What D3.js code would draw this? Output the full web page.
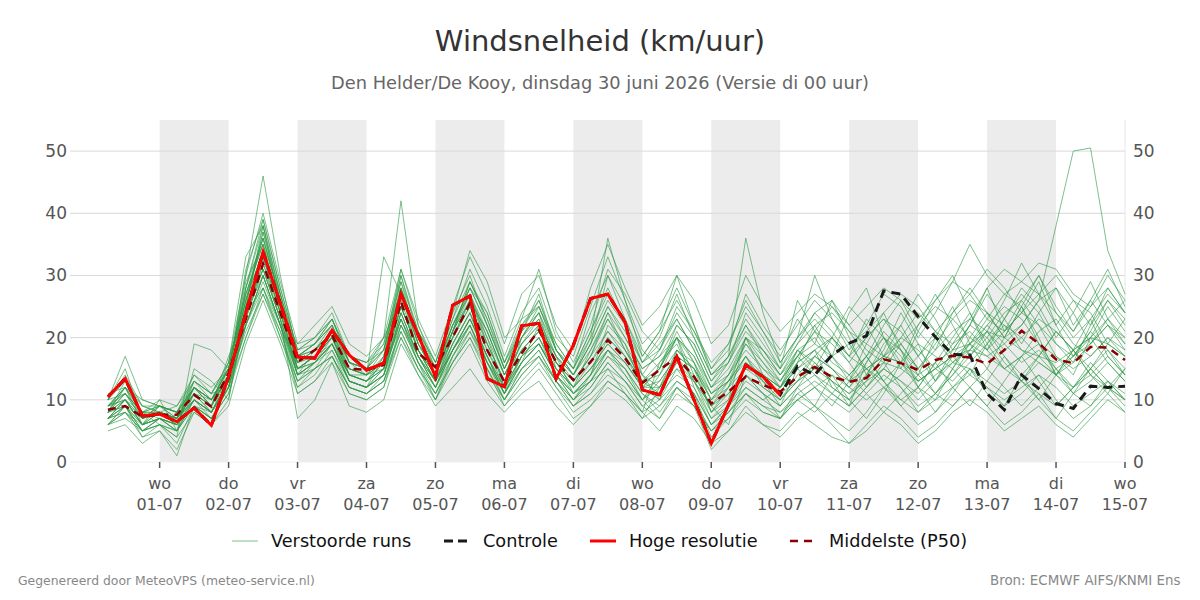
<!DOCTYPE html>
<html>
<head>
<meta charset="utf-8">
<script src="https://cdn.jsdelivr.net/npm/d3@7"></script>
<style>
  body { margin: 0; background: #fff; font-family: "DejaVu Sans", sans-serif; }
</style>
</head>
<body>
<div id="chart"></div>
<script>
// first run step: 30-06 06:00, then every 6 hours
var startRun = new Date(2026, 5, 30, 6);
var dayTicks = ["wo", "do", "vr", "za", "zo", "ma", "di", "wo", "do", "vr", "za", "zo", "ma", "di", "wo"];
var dateTicks = ["01-07", "02-07", "03-07", "04-07", "05-07", "06-07", "07-07", "08-07", "09-07", "10-07", "11-07", "12-07", "13-07", "14-07", "15-07"];
var yTicks = [0, 10, 20, 30, 40, 50];

// hoge resolutie (ends 10-07 00:00)
var hires = [10.5, 13.4, 7.4, 7.7, 6.5, 8.7, 5.9, 13.7, 24, 33.8,
  25.5, 16.9, 16.7, 21.2, 17.2, 14.8, 15.9, 27, 20.4, 13.7,
  25.2, 26.7, 13.4, 12.1, 21.9, 22.3, 13.4, 18.8, 26.3, 27,
  22.5, 11.6, 10.8, 16.9, 10, 3.0, 9.2, 15.6, 13.7, 10.8];

// controle run (same as hoge resolutie in first part)
var control = [10.5, 13.4, 7.4, 7.7, 6.5, 8.7, 5.9, 13.7, 24, 33.8,
  25.5, 16.9, 16.7, 21.2, 17.2, 14.8, 15.9, 27, 20.4, 13.7,
  25.2, 26.7, 13.4, 12.1, 21.9, 22.3, 13.4, 18.8, 26.3, 27,
  22.5, 11.6, 10.8, 16.9, 10, 3.0, 9.2, 15.6, 13.7, 10.8,
  15.4, 14, 17.2, 19.1, 20.3, 27.5, 27, 23.4, 20.1, 17.3,
  17.2, 11, 8.4, 14, 11.8, 9.4, 8.6, 12.2, 12, 12.2];

// middelste (P50)
var median = [8.4, 9.0, 7.3, 7.6, 7.6, 10.8, 8.9, 14.3, 23, 31.9,
  24, 16.1, 18, 20.4, 15, 14.8, 15.6, 25.8, 17.5, 15.3,
  20.1, 25.5, 18, 12.9, 17.5, 21.2, 16.1, 13.2, 16.1, 19.6,
  16.7, 12.7, 14.8, 16.9, 13.7, 9.4, 11.3, 13.7, 12.4, 11.3,
  13.7, 15.3, 13.7, 12.9, 13.5, 16.5, 15.9, 14.8, 16.4, 17.1,
  16.8, 15.8, 18, 21.1, 19.1, 16.5, 15.9, 18.5, 18.4, 16.4];

// verstoorde runs
var members = [
  [9,12,6,7,5,10,8,12,28,36, 26,15,17,21,14,13,17,28,20,14, 22,27,20,12,16,22,17,11,14,22, 19,12,10,18,16,8,10,16,13,9, 15,18,12,10,14,19,22,17,13,18, 22,20,24,26,22,17,14,20,25,21],
  [7,10,8,9,7,12,10,15,22,30, 22,13,16,19,13,12,14,24,17,12, 19,24,16,11,20,24,15,12,18,24, 20,15,17,20,12,6,9,12,10,12, 17,14,11,9,16,21,18,12,10,15, 19,23,27,25,20,14,12,15,19,17],
  [10,14,9,8,6,13,11,16,30,40, 29,19,20,24,17,16,18,31,22,16, 24,30,22,15,21,26,18,14,20,26, 22,16,19,23,18,12,14,18,15,13, 18,20,16,14,17,13,10,12,16,20, 24,19,15,13,17,21,18,14,12,15],
  [6,8,4,6,3,9,7,11,20,28, 20,12,14,18,12,11,13,22,16,11, 17,21,15,10,15,18,13,9,12,16, 13,9,7,12,10,5,7,10,8,7, 11,9,7,5,8,12,9,6,8,12, 15,12,9,11,14,10,7,9,13,10],
  [8,11,7,9,8,11,9,14,25,38, 27,17,19,22,16,15,16,27,19,15, 21,28,24,16,23,25,18,15,24,30, 25,18,15,22,19,13,16,24,20,15, 20,24,26,22,18,16,20,24,21,17, 14,19,23,27,24,19,16,22,28,24],
  [9,10,6,8,9,14,12,15,26,34, 25,16,18,20,15,14,15,25,18,14, 20,26,19,13,18,21,16,12,15,19, 16,12,13,17,15,10,12,15,13,11, 13,15,17,19,15,12,14,17,20,16, 18,22,19,16,18,15,17,21,18,14],
  [7,9,5,6,4,8,6,10,24,33, 24,14,15,19,13,12,15,25,18,13, 18,23,17,11,17,20,14,10,13,18, 15,10,12,15,11,4,7,11,9,8, 10,12,10,8,11,14,12,9,11,14, 17,20,16,13,11,9,12,15,12,10],
  [8,13,8,8,7,11,10,14,31,39, 28,18,19,23,16,15,19,30,21,15, 23,31,25,17,24,28,20,17,25,33, 26,19,22,28,22,15,18,27,22,18, 22,26,23,19,21,24,27,25,21,19, 23,28,31,29,27,24,21,25,30,26],
  [6,7,5,7,6,10,8,13,21,27, 21,12,15,17,12,11,14,21,15,11, 16,20,14,10,14,17,12,8,10,13, 11,8,5,9,7,3,5,8,6,5, 8,6,4,3,6,9,7,4,6,9, 12,9,6,8,11,7,5,8,11,8],
  [9,11,7,8,7,12,9,16,27,35, 25,17,18,21,15,14,18,29,19,14, 21,26,21,14,19,23,17,13,17,24, 18,13,11,16,14,9,13,17,12,10, 14,17,15,12,16,20,17,13,15,19, 21,18,15,17,21,23,19,17,20,18],
  [8,10,6,7,6,11,9,14,30,46, 30,17,19,22,16,15,20,42,22,15, 22,27,19,13,18,21,16,13,17,21, 17,13,14,18,15,11,13,16,14,12, 16,18,15,13,15,17,16,14,16,18, 19,21,20,18,17,16,18,20,19,17],
  [7,9,7,8,7,10,8,13,23,31, 23,15,17,20,14,13,15,24,17,13, 19,24,17,12,17,20,15,12,15,19, 16,12,12,16,13,9,11,14,12,10, 13,15,13,11,14,16,15,13,15,17, 18,17,19,22,26,38,50,50.5,34,27],
  [10,17,10,9,8,13,11,12,24,30, 22,11,13,17,11,10,12,22,16,10, 17,22,15,9,13,16,12,9,11,15, 13,10,14,20,17,11,13,19,16,13, 17,21,19,16,20,23,19,15,19,23, 26,24,20,22,26,28,24,19,23,26],
  [5,6,3,5,2,8,6,9,19,26, 19,11,13,16,11,10,12,20,14,10, 15,19,13,9,12,15,11,7,9,12, 10,7,9,12,9,5,8,12,10,8, 11,13,11,9,12,15,13,10,13,16, 19,22,25,23,19,15,12,14,17,14],
  [7,9,4,5,1,9,7,12,22,29, 22,14,16,19,13,12,15,23,17,12, 18,23,17,11,16,19,14,10,13,17, 14,10,13,17,15,8,11,15,14,12, 16,18,20,17,15,13,16,19,17,15, 20,24,22,18,16,14,17,20,16,13],
  [9,12,8,10,9,13,11,15,27,35, 27,18,20,23,17,16,20,31,23,17, 25,33,27,19,27,30,22,18,28,35, 28,22,25,30,26,19,22,30,25,21, 24,27,25,22,25,28,26,23,26,29, 35,30,27,29,32,31,27,25,28,24],
  [8,9,6,9,8,12,10,13,25,37, 26,16,18,21,14,14,16,27,19,14, 21,26,20,14,19,22,17,14,18,23, 19,14,10,15,13,7,10,20,18,14, 18,16,13,11,13,17,20,18,15,13, 16,19,22,20,17,14,16,19,22,19],
  [7,10,6,7,6,10,8,13,24,32, 24,15,17,20,14,13,16,25,18,13, 19,24,18,12,17,20,15,11,14,18, 15,11,8,12,9,2,5,9,6,4, 7,9,6,3,5,8,6,3,5,8, 10,8,5,7,9,6,4,7,10,8],
  [9,11,8,8,7,11,9,15,26,34, 25,16,18,21,15,14,16,26,18,14, 20,25,18,13,18,21,16,13,16,20, 17,13,16,20,17,12,15,20,17,14, 17,19,17,14,17,20,18,15,18,21, 23,21,18,20,23,21,18,20,23,20],
  [8,10,7,8,7,11,9,14,23,33, 24,16,17,20,15,14,16,25,18,14, 21,29,24,16,21,27,18,15,20,36, 26,17,21,30,22,14,17,36,24,16, 20,30,23,18,22,27,25,20,24,29, 27,23,21,26,30,24,20,23,27,24],
  [7,8,5,6,5,9,8,12,22,30, 22,14,16,18,13,12,14,23,16,12, 18,22,16,11,15,18,13,10,12,16, 13,9,11,14,12,7,9,13,11,9, 12,14,12,10,13,15,13,11,14,16, 15,13,11,13,16,14,11,13,16,13],
  [10,13,9,9,8,12,10,15,28,38, 27,17,19,23,16,15,18,28,20,15, 22,28,22,15,21,24,17,14,19,25, 20,15,17,22,19,13,17,22,18,15, 19,22,24,21,19,17,19,22,25,23, 20,18,21,24,22,19,17,19,22,20],
  [6,9,5,7,6,9,7,11,22,28, 21,13,15,17,12,11,13,21,15,11, 16,20,15,10,14,17,13,9,11,14, 12,8,10,13,11,6,8,11,9,7, 10,12,14,12,10,12,10,8,10,12, 14,12,10,12,14,12,9,11,13,11],
  [8,12,7,8,7,12,9,14,26,36, 26,17,18,22,15,14,17,27,19,14, 21,27,21,14,20,23,16,13,17,23, 18,13,15,20,16,10,13,17,14,12, 15,17,15,12,15,17,16,13,15,17, 19,17,15,17,19,17,15,17,20,17],
  [11,12,8,6,4,19,18,15,29,35, 24,19,22,25,19,17,20,26,21,16, 24,34,29,20,23,31,21,16,22,31, 27,21,18,25,21,16,19,26,21,17, 23,19,26,20,14,18,24,19,13,17, 22,28,21,24,29,22,17,21,26,22],
  [6,9,6,10,5,15,13,10,25,31, 23,7,10,16,9,8,10,19,14,9, 12,15,11,8,11,13,9,6,9,13, 11,7,12,17,13,9,6,14,11,7, 12,9,14,10,7,11,16,12,8,11, 15,11,9,14,10,7,11,15,12,9],
  [9,12,10,9,8,14,11,16,33,38, 25,14,18,21,16,14,33,27,18,13, 20,26,21,14,20,25,18,14,19,30, 23,16,20,27,20,14,17,23,19,15, 26,21,17,24,28,20,15,21,26,30, 24,18,23,28,25,20,24,29,23,19],
  [8,11,8,7,6,12,9,17,24,28, 22,16,17,19,14,13,15,22,17,13, 18,22,16,12,17,19,14,11,13,15, 11,8,16,19,13,8,12,20,14,11, 16,22,17,13,19,24,18,14,20,25, 19,15,20,25,19,14,18,23,17,14],
  [10,15,7,9,7,11,8,13,26,37, 27,15,16,20,13,12,17,30,20,14, 21,29,23,15,22,26,19,15,21,28, 22,14,12,18,15,10,14,20,16,12, 18,15,20,25,22,17,22,27,23,18, 22,27,23,19,24,28,22,26,31,25],
  [7,8,6,8,7,10,7,12,20,27, 20,13,15,17,12,11,13,20,15,10, 16,21,16,10,15,17,13,10,14,20, 17,12,15,21,16,11,14,19,15,12, 15,12,9,13,17,13,9,12,16,12, 9,13,17,13,10,14,18,14,11,15],
  [9,10,7,8,6,12,10,15,27,36, 26,17,19,22,16,15,18,28,20,15, 22,28,22,15,20,24,18,14,19,25, 21,16,18,24,20,14,16,21,18,14, 19,24,21,17,23,20,16,22,27,22, 17,21,26,32,27,22,26,24,19,23],
  [8,9,5,7,5,10,8,13,24,31, 23,14,16,19,13,12,14,23,16,12, 17,22,16,11,16,19,14,11,13,17, 15,11,9,13,11,6,9,14,11,9, 12,16,13,9,12,16,12,8,11,15, 12,9,13,17,13,9,12,16,13,10],
  [8,12,9,8,7,13,10,14,25,33, 24,15,17,20,14,13,16,25,18,13, 20,25,19,13,19,22,16,12,16,21, 18,14,18,23,18,12,16,22,17,13, 17,21,25,21,17,22,26,21,18,24, 28,24,20,25,30,25,21,26,22,18],
  [7,10,6,7,5,11,8,14,22,30, 22,15,16,19,14,13,15,23,17,13, 18,23,17,12,16,19,15,12,15,18, 14,10,7,11,9,5,8,11,8,7, 10,8,11,14,11,8,11,14,11,9, 12,15,12,9,12,15,11,9,12,10],
  [10,11,8,9,8,12,10,15,28,39, 28,18,20,23,17,16,19,29,21,16, 23,29,23,16,22,25,19,15,21,27, 23,17,21,26,21,15,19,25,21,16, 20,23,20,17,20,23,21,17,21,24, 27,31,28,24,27,30,26,22,26,23],
  [6,8,5,6,5,9,7,12,23,32, 23,14,16,19,13,12,14,24,17,12, 18,23,17,11,16,19,14,11,14,18, 16,12,15,20,14,9,12,17,13,10, 13,17,20,16,12,15,19,15,11,14, 18,21,17,14,17,21,18,15,18,15]
];

var legendItems = ["Verstoorde runs", "Controle", "Hoge resolutie", "Middelste (P50)"];

var W = 1200, H = 600;
var margin = {top: 120, right: 75, bottom: 138, left: 70},
    width = W - margin.left - margin.right,
    height = H - margin.top - margin.bottom;

function stepDate(i) { return d3.timeHour.offset(startRun, 6 * i); }

var svg = d3.select("#chart").append("svg")
    .attr("width", W)
    .attr("height", H);

var x = d3.scaleTime()
    .domain([new Date(2026, 5, 29, 16, 48), new Date(2026, 6, 15, 0)])
    .range([0, width]);

var y = d3.scaleLinear()
    .domain([0, 55])
    .range([height, 0]);

var g = svg.append("g")
    .attr("transform", "translate(" + margin.left + "," + margin.top + ")");

// grey bands on alternate days
var bandDays = d3.range(0, 14, 2).map(function(k) { return new Date(2026, 6, 1 + k); });
g.selectAll(".band")
    .data(bandDays)
  .enter().append("rect")
    .attr("x", function(d) { return x(d); })
    .attr("y", 0)
    .attr("width", function(d) { return x(d3.timeDay.offset(d, 1)) - x(d); })
    .attr("height", height)
    .attr("fill", "#ececec");

// grid
g.selectAll(".grid")
    .data(yTicks)
  .enter().append("line")
    .attr("x1", 0).attr("x2", width)
    .attr("y1", function(d) { return y(d); })
    .attr("y2", function(d) { return y(d); })
    .attr("stroke", function(d) { return d === 0 ? "#f0f0f0" : "#d9d9d9"; })
    .attr("stroke-width", 1);

g.append("line")
    .attr("x1", width).attr("x2", width)
    .attr("y1", 0).attr("y2", height)
    .attr("stroke", "#e6e6e6");

// y labels left and right
var ylab = svg.append("g").attr("font-size", 17).attr("fill", "#555");
ylab.selectAll(".yl")
    .data(yTicks)
  .enter().append("text")
    .attr("x", margin.left - 3)
    .attr("y", function(d) { return margin.top + y(d) + 6; })
    .attr("text-anchor", "end")
    .text(function(d) { return d; });
ylab.selectAll(".yr")
    .data(yTicks)
  .enter().append("text")
    .attr("x", margin.left + width + 8)
    .attr("y", function(d) { return margin.top + y(d) + 6; })
    .text(function(d) { return d; });

// x ticks
var tickDates = dateTicks.map(function(s, i) { return new Date(2026, 6, 1 + i); });
var xt = g.append("g").attr("transform", "translate(0," + height + ")");
xt.selectAll("line")
    .data(tickDates)
  .enter().append("line")
    .attr("x1", x).attr("x2", x)
    .attr("y1", 0).attr("y2", 6)
    .attr("stroke", "#555")
    .attr("stroke-width", 1.5);
xt.selectAll(".d1")
    .data(tickDates)
  .enter().append("text")
    .attr("x", x)
    .attr("y", 27)
    .attr("text-anchor", "middle")
    .attr("font-size", 16)
    .attr("fill", "#555")
    .text(function(d, i) { return dayTicks[i]; });
xt.selectAll(".d2")
    .data(tickDates)
  .enter().append("text")
    .attr("x", x)
    .attr("y", 48)
    .attr("text-anchor", "middle")
    .attr("font-size", 16)
    .attr("fill", "#555")
    .text(function(d, i) { return dateTicks[i]; });

var line = d3.line()
    .x(function(d, i) { return x(stepDate(i)); })
    .y(function(d) { return y(d); });

g.selectAll(".member")
    .data(members)
  .enter().append("path")
    .attr("d", line)
    .attr("fill", "none")
    .attr("stroke", "#2e9a45")
    .attr("stroke-opacity", 0.62)
    .attr("stroke-width", 1);

g.append("path")
    .datum(control)
    .attr("d", line)
    .attr("fill", "none")
    .attr("stroke", "#1a1a1a")
    .attr("stroke-width", 3)
    .attr("stroke-dasharray", "9,6");

g.append("path")
    .datum(median)
    .attr("d", line)
    .attr("fill", "none")
    .attr("stroke", "#8b0000")
    .attr("stroke-width", 2.5)
    .attr("stroke-dasharray", "8,6");

g.append("path")
    .datum(hires)
    .attr("d", line)
    .attr("fill", "none")
    .attr("stroke", "#ff0000")
    .attr("stroke-width", 3);

// titles
svg.append("text")
    .attr("x", W / 2).attr("y", 51)
    .attr("text-anchor", "middle")
    .attr("font-size", 29)
    .attr("fill", "#333")
    .text("Windsnelheid (km/uur)");
svg.append("text")
    .attr("x", W / 2).attr("y", 89)
    .attr("text-anchor", "middle")
    .attr("font-size", 17.8)
    .attr("fill", "#666")
    .text("Den Helder/De Kooy, dinsdag 30 juni 2026 (Versie di 00 uur)");

// legend
var legX = [232, 444, 590, 790];
var legStyle = [
  {stroke: "#7cc28a", w: 1, dash: null},
  {stroke: "#1a1a1a", w: 3, dash: "9,5"},
  {stroke: "#ff0000", w: 3, dash: null},
  {stroke: "#8b0000", w: 2.5, dash: "8,6"}
];
var leg = svg.append("g").attr("transform", "translate(0,541)");
legendItems.forEach(function(name, i) {
  leg.append("line")
      .attr("x1", legX[i]).attr("x2", legX[i] + 26)
      .attr("y1", 0).attr("y2", 0)
      .attr("stroke", legStyle[i].stroke)
      .attr("stroke-width", legStyle[i].w)
      .attr("stroke-dasharray", legStyle[i].dash);
  leg.append("text")
      .attr("x", legX[i] + 39)
      .attr("y", 6)
      .attr("font-size", 17.7)
      .attr("fill", "#111")
      .text(name);
});

// footer
svg.append("text")
    .attr("x", 18).attr("y", 585)
    .attr("font-size", 12.4)
    .attr("fill", "#888")
    .text("Gegenereerd door MeteoVPS (meteo-service.nl)");
svg.append("text")
    .attr("x", 990).attr("y", 585)
    .attr("font-size", 13.4)
    .attr("fill", "#888")
    .text("Bron: ECMWF AIFS/KNMI Ens");
</script>
</body>
</html>
